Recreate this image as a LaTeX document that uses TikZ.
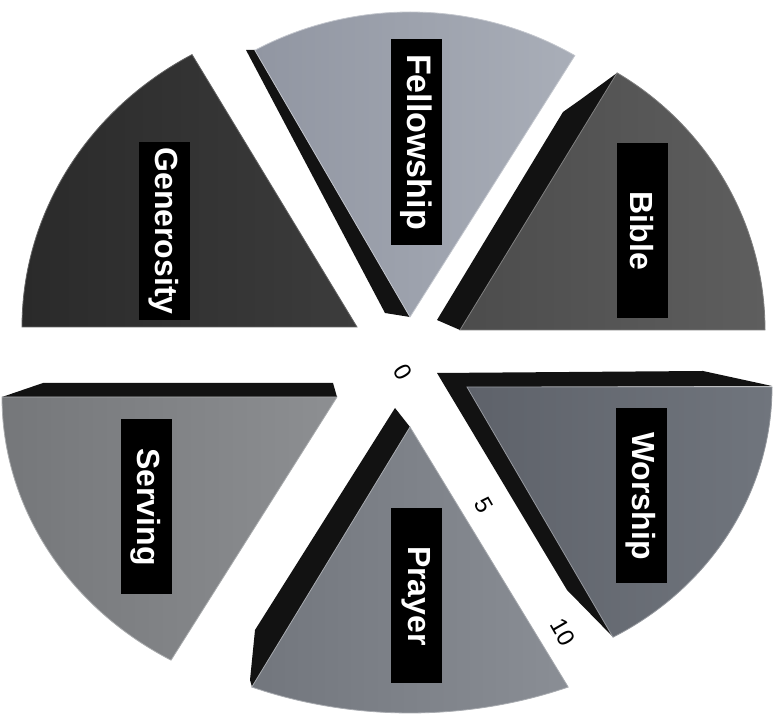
\documentclass[tikz,border=0pt]{standalone}
\usepackage{fontspec}
\setmainfont{Liberation Sans}
\usepackage{tikz}

% side and face colours
\definecolor{sideblack}{HTML}{121212}
\definecolor{felA}{HTML}{9196A2}
\definecolor{felB}{HTML}{A9AEB8}
\definecolor{bibA}{HTML}{4C4C4C}
\definecolor{bibB}{HTML}{5E5E5E}
\definecolor{worA}{HTML}{5E626A}
\definecolor{worB}{HTML}{70757D}
\definecolor{prayA}{HTML}{72767D}
\definecolor{prayB}{HTML}{8A8E95}
\definecolor{servA}{HTML}{75777A}
\definecolor{servB}{HTML}{8D8F92}
\definecolor{genA}{HTML}{2A2A2A}
\definecolor{genB}{HTML}{3C3C3C}

\tikzset{
  side/.style={fill=sideblack},
  face/.style={line width=0.8pt},
  lbl/.style={rotate=-90, fill=black, text=white,
    font=\bfseries\fontsize{32}{38}\selectfont,
    minimum width=175pt, minimum height=51pt, inner xsep=5pt, inner ysep=0pt},
  axislbl/.style={rotate=-60, font=\fontsize{24}{28}\selectfont, inner sep=1pt}
}

\begin{document}
\begin{tikzpicture}[x=1pt,y=1pt]
\useasboundingbox (0,0) rectangle (777,720);

% Dark sides
\fill[side] (410,403) -- (385,407) -- (246,670) -- (255,670) -- cycle;
\fill[side] (460,390) -- (437,400) -- (563,608) -- (580,620) -- (617,647) -- cycle;
\fill[side] (467,333) -- (772,334) -- (703,349) -- (437,347) -- (567,130) -- (613,83) -- cycle;
\fill[side] (410,293) -- (395,312) -- (255,90) -- (250,40) -- (252,33) -- cycle;
\fill[side] (337,323) -- (333,337) -- (43,337) -- (2,323) -- cycle;

% Fellowship wedge
\shadedraw[face, left color=felA, right color=felB, draw=felB!70!white]
  (410,403) -- ++(59:320 and 305) arc[start angle=59, end angle=119, x radius=320, y radius=305] -- cycle;

% Bible wedge
\shadedraw[face, left color=bibA, right color=bibB, draw=bibB!80!white]
  (460,390) -- ++(0:305 and 300) arc[start angle=0, end angle=59, x radius=305, y radius=300] -- cycle;

% Worship wedge
\shadedraw[face, left color=worA, right color=worB, draw=worB!75!white]
  (467,333) -- ++(-61.4:305 and 285) arc[start angle=-61.4, end angle=0, x radius=305, y radius=285] -- cycle;

% Prayer wedge
\shadedraw[face, left color=prayA, right color=prayB, draw=prayB!75!white]
  (410,293) -- ++(245.4:380 and 286) arc[start angle=245.4, end angle=294.6, x radius=380, y radius=286] -- cycle;

% Serving wedge
\shadedraw[face, left color=servA, right color=servB, draw=servB!75!white]
  (337,323) -- ++(180:335 and 303) arc[start angle=180, end angle=240.3, x radius=335, y radius=303] -- cycle;

% Generosity wedge
\shadedraw[face, left color=genA, right color=genB, draw=genB!80!white]
  (357,393) -- ++(119.5:335 and 313) arc[start angle=119.5, end angle=180, x radius=335, y radius=313] -- cycle;

% Labels
\node[lbl, minimum width=206pt, font=\bfseries\fontsize{34}{40}\selectfont] (fel) at (416,578) {Fellowship};
\node[lbl] (bib) at (642,489) {Bible};
\node[lbl] (wor) at (641,224) {Worship};
\node[lbl] (pray) at (416,124) {Prayer};
\node[lbl] (serv) at (146,213) {Serving};
\node[lbl] (gen) at (164,489) {Generosity};

% Scale
\node[axislbl] (s0) at (403,348) {0};
\node[axislbl] (s5) at (484,215) {5};
\node[axislbl] (s10) at (563,88) {10};

\end{tikzpicture}
\end{document}
